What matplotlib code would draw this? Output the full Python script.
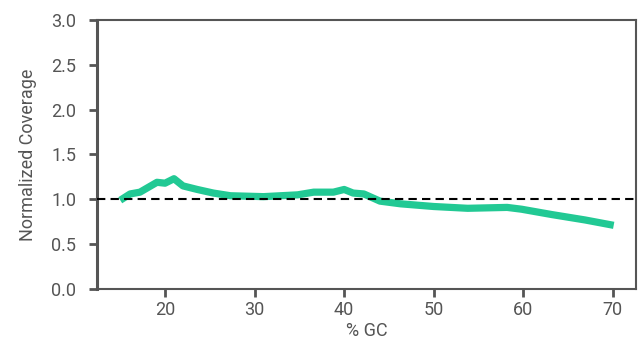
import matplotlib
matplotlib.use('Agg')
import matplotlib.pyplot as plt

# coverage curve
gc_pct = [15.0, 16.1, 17.2, 19.1, 20.0, 21.0, 22.0, 23.6, 25.4, 27.3, 31.0,
          34.8, 36.6, 38.8, 40.0, 41.0, 42.2, 44.0, 46.3, 50.0, 53.8, 58.2,
          59.8, 63.2, 66.9, 70.1]
coverage = [0.99, 1.06, 1.08, 1.19, 1.18, 1.23, 1.15, 1.11, 1.07, 1.04, 1.03,
            1.05, 1.08, 1.08, 1.11, 1.07, 1.06, 0.98, 0.95, 0.92, 0.90, 0.91,
            0.89, 0.83, 0.77, 0.71]
x_ticks = [20, 30, 40, 50, 60, 70]
y_ticks = [0.0, 0.5, 1.0, 1.5, 2.0, 2.5, 3.0]

plt.rcParams['font.family'] = ['Roboto', 'DejaVu Sans']

txt = '#555555'

fig = plt.figure(figsize=(6.38, 3.39), dpi=100)
ax = fig.add_axes([0.152, 0.1475, 0.845, 0.7935])

ax.plot(gc_pct, coverage, color='#22c994', lw=5.2, solid_capstyle='butt',
        solid_joinstyle='round', zorder=2)
ax.axhline(1.0, color='black', lw=1.5, dashes=(4, 2.5), zorder=3)

ax.set_xlim(12.4, 72.6)
ax.set_ylim(0, 3.0)
ax.set_xticks(x_ticks)
ax.set_yticks(y_ticks)
ax.set_yticklabels(['%.1f' % v for v in y_ticks])

for side in ['top', 'right', 'bottom']:
    ax.spines[side].set_color('#555555')
    ax.spines[side].set_linewidth(1.5)
ax.spines['left'].set_color('#555555')
ax.spines['left'].set_linewidth(2.2)

ax.tick_params(axis='both', colors='#555555', labelcolor=txt,
               labelsize=13, length=6, width=2)
ax.tick_params(axis='y', pad=9)
ax.tick_params(axis='x', pad=3)

ax.set_xlabel('% GC', fontsize=13, color=txt, labelpad=2)
ax.set_ylabel('Normalized Coverage', fontsize=13, color=txt, labelpad=10)

plt.savefig('out.png', dpi=100)
